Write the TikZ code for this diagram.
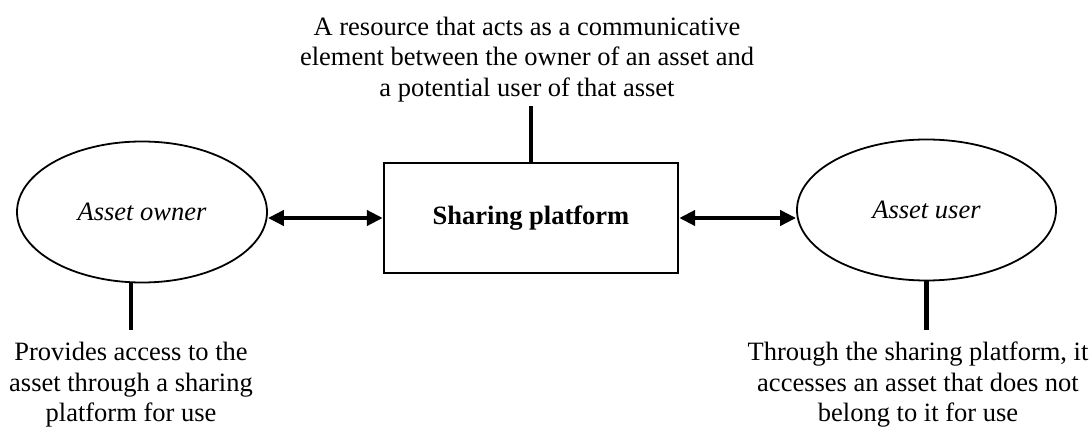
\documentclass[tikz,border=0pt]{standalone}
\usepackage{fontspec}
\setmainfont{Liberation Serif}
\usetikzlibrary{arrows.meta,shapes.geometric}
\tikzset{
  txt/.style={align=center, font=\fontsize{26.5}{30.5}\selectfont, inner sep=0pt},
  oval/.style={draw, ellipse, line width=1.8pt, inner sep=0pt, font=\fontsize{26.5}{30.5}\selectfont\itshape},
  platbox/.style={draw, rectangle, line width=2.4pt, inner sep=0pt, font=\fontsize{26.5}{30.5}\selectfont\bfseries},
  link/.style={line width=4.5pt},
  biarrow/.style={line width=4pt, {Triangle[length=16pt,width=15pt]}-{Triangle[length=16pt,width=15pt]}}
}
\begin{document}
\begin{tikzpicture}[x=1pt,y=1pt]
\useasboundingbox (0,0) rectangle (1092,-427);
\node[oval, minimum width=250pt, minimum height=141pt] (owner) at (142,-212) {Asset owner};
\node[oval, minimum width=259pt, minimum height=141pt] (user) at (926.5,-210) {Asset user};
\node[platbox, minimum width=294pt, minimum height=110pt] (plat) at (531,-218) {Sharing platform};
\node[txt, anchor=south, inner ysep=4pt] (top) at (527,-106) {A resource that acts as a communicative\\element between the owner of an asset and\\a potential user of that asset};
\node[txt, anchor=north, inner ysep=12pt] (otext) at (131,-330) {Provides access to the\\asset through a sharing\\platform for use};
\node[txt, anchor=north, inner ysep=12pt] (utext) at (918,-330) {Through the sharing platform, it\\accesses an asset that does not\\belong to it for use};
\draw[biarrow] (owner.east |- plat.west) -- (plat.west);
\draw[biarrow] (plat.east) -- (user.west |- plat.east);
\draw[link] (plat.north) -- (plat.north |- top.south);
\draw[link] (owner.south -| otext.north) -- (otext.north);
\draw[link] (user.south) -- (user.south |- utext.north);
\end{tikzpicture}
\end{document}
